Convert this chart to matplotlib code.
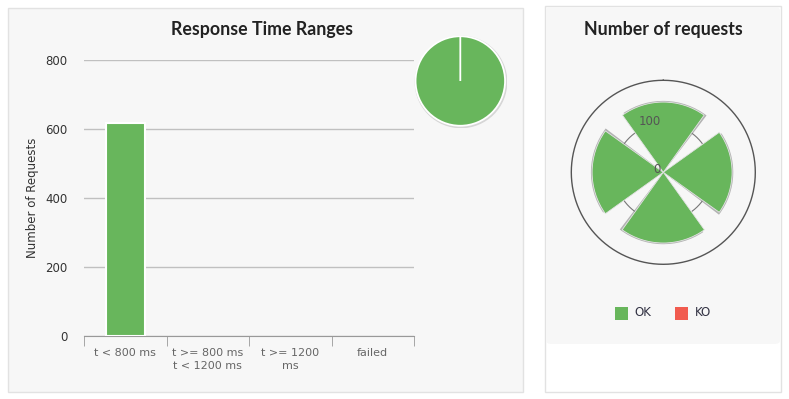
import numpy as np
import matplotlib
matplotlib.use("Agg")
from matplotlib import pyplot as plt
from matplotlib.patches import FancyBboxPatch, Rectangle
from matplotlib.transforms import ScaledTranslation

# data
ranges = ["t < 800 ms", "t >= 800 ms\nt < 1200 ms", "t >= 1200\nms", "failed"]
range_counts = [617, 0, 0, 0]
yticks = [0, 200, 400, 600, 800]

pie_labels = ["OK", "KO"]
pie_counts = [617, 0]

polar_cats = ["0", "1", "2", "3"]
polar_ok = [145, 142, 146, 147]
polar_rticks = [0, 100]

GREEN = "#68b65c"
RED = "#f15b4f"
W, H = 789, 399


def fx(px):
    return px / W


def fy(py):
    return 1 - py / H


fig = plt.figure(figsize=(7.89, 3.99), dpi=100)
fig.patch.set_facecolor("white")

# panels (behind axes)
fig.patches.append(Rectangle((fx(8), fy(392)), fx(515), (384) / H, transform=fig.transFigure,
                             facecolor="#f7f7f7", edgecolor="#e2e2e2", lw=1, zorder=-2))
fig.patches.append(Rectangle((fx(545), fy(392)), fx(236), (386) / H, transform=fig.transFigure,
                             facecolor="white", edgecolor="#e2e2e2", lw=1, zorder=-2))
fig.patches.append(FancyBboxPatch((fx(546), fy(344)), fx(234), (337) / H, transform=fig.transFigure,
                                  boxstyle="round,pad=0,rounding_size=0.008",
                                  facecolor="#f7f7f7", edgecolor="none", zorder=-1))

fig.text(fx(262), fy(29), "Response Time Ranges", ha="center", va="center",
         fontsize=12.8, fontweight="bold", color="#222222", family="Lato")
fig.text(fx(663), fy(29), "Number of requests", ha="center", va="center",
         fontsize=12.8, fontweight="bold", color="#222222", family="Lato")

# bar chart
ax = fig.add_axes([fx(84), fy(336), fx(330), (336 - 60.3) / H])
ax.set_facecolor("none")
x = np.arange(len(ranges))
ax.bar(x, range_counts, width=0.47, color=GREEN, edgecolor="white",
       lw=[1.5 if c > 0 else 0 for c in range_counts], zorder=3)
ax.set_xlim(-0.5, len(ranges) - 0.5)
ax.set_ylim(0, 800)
ax.set_yticks(yticks)
ax.set_yticklabels([str(v) for v in yticks])
ax.grid(axis="y", color="#c0c0c0", lw=1, zorder=0)
ax.set_axisbelow(True)
for s in ["top", "right", "left"]:
    ax.spines[s].set_visible(False)
ax.spines["bottom"].set_color("#999999")
ax.set_xticks(x)
ax.set_xticklabels(ranges, fontsize=8, color="#666666", linespacing=1.35)
ax.set_xticks(np.arange(len(ranges) + 1) - 0.5, minor=True)
ax.tick_params(axis="x", which="major", length=0, pad=9)
ax.tick_params(axis="x", which="minor", length=7.5, color="#999999", direction="out")
ax.tick_params(axis="y", length=0, pad=12, labelsize=8.5, labelcolor="#333333")
ax.set_ylabel("Number of Requests", fontsize=8.5, color="#333333")
ax.yaxis.set_label_coords(-0.135, 0.5)

# small pie
pax = fig.add_axes([fx(460.3 - 47), fy(81 + 47), fx(94), 94 / H])
pax.add_patch(plt.Circle((0.015, -0.02), 1.02, color="#d6d6d6", zorder=0))
pax.pie(pie_counts, colors=[GREEN, RED], startangle=90, counterclock=False,
        wedgeprops=dict(edgecolor="white", linewidth=1.3))
pax.set_xlim(-1.05, 1.05)
pax.set_ylim(-1.05, 1.05)

# polar chart
rmax = 190
qax = fig.add_axes([fx(663.3 - 92), fy(172.3 + 92), fx(184), 184 / H], projection="polar")
qax.patch.set_visible(False)
qax.set_theta_zero_location("N")
qax.set_theta_direction(-1)
theta = np.arange(len(polar_cats)) * np.pi / 2
bw = 0.79 * np.pi / 2
ring = np.linspace(0, 2 * np.pi, 361)
qax.plot(ring, np.full_like(ring, polar_rticks[1]), color="#777777", lw=0.8, zorder=1)
qax.plot(ring, np.full_like(ring, rmax), color="#555555", lw=1, zorder=1, clip_on=False)
qax.bar(theta + 0.03, np.array(polar_ok) + 2.5, width=bw, color="#7a7a7a", alpha=0.55,
        edgecolor="none", zorder=2)
qax.bar(theta, polar_ok, width=bw, color=GREEN, edgecolor="#e4e4e4", lw=0.6, zorder=3)
qax.set_ylim(0, rmax)
qax.grid(False)
qax.xaxis.set_visible(False)
qax.yaxis.set_visible(False)
for s in qax.spines.values():
    s.set_visible(False)
shift = qax.transData + ScaledTranslation(-2 / 72, 2 / 72, fig.dpi_scale_trans)
for r in polar_rticks:
    qax.text(0, r, str(r), ha="right", va="center", fontsize=8.5, color="#555555",
             transform=shift, zorder=6)

# legend
for lx, lab, col in [(621.7, "OK", GREEN), (681.7, "KO", RED)]:
    fig.patches.append(Rectangle((fx(lx - 6.5), fy(313 + 6.5)), fx(13), 13 / H,
                                 transform=fig.transFigure, facecolor=col, edgecolor="none"))
    fig.text(fx(lx + 13), fy(313), lab, ha="left", va="center", fontsize=8.5, color="#333344")

fig.savefig("out.png", dpi=100, facecolor="white")
